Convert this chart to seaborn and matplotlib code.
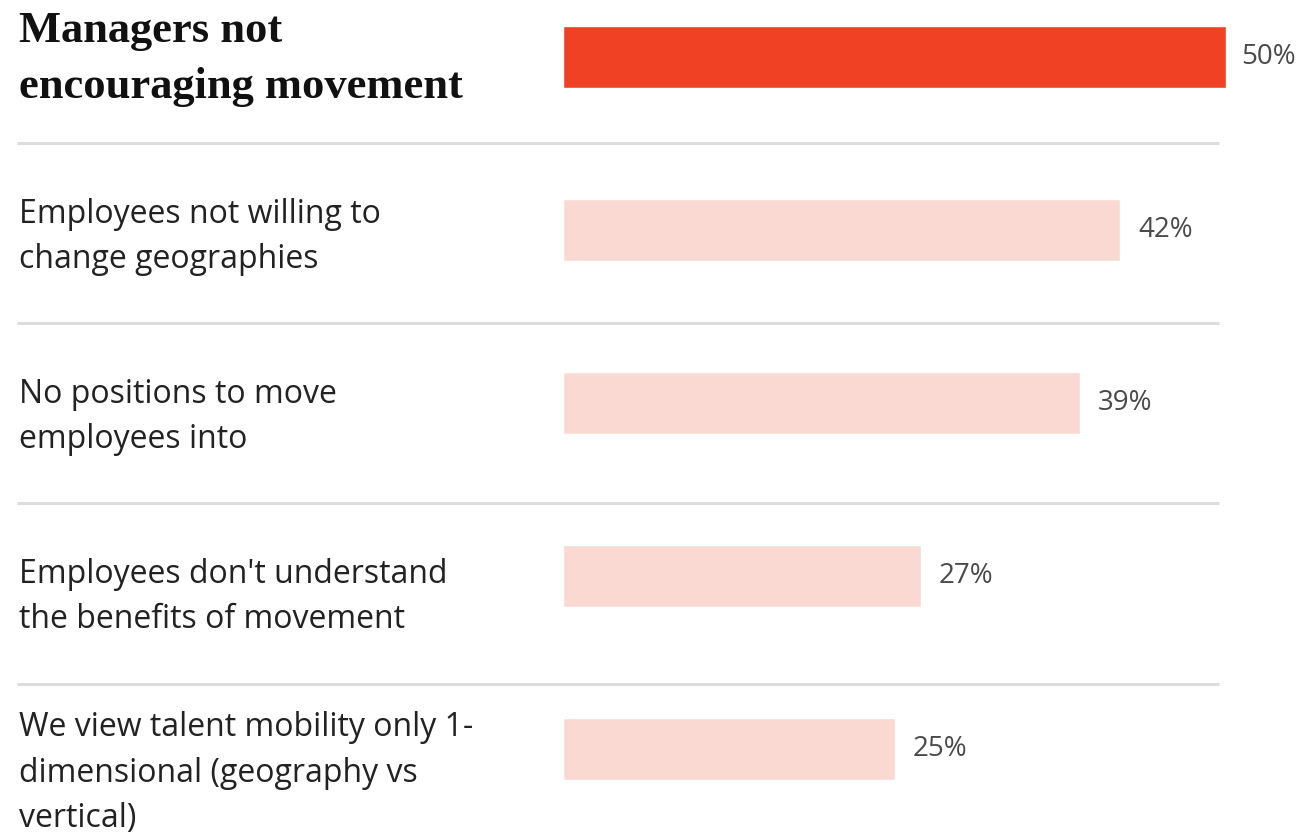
import matplotlib
matplotlib.use("Agg")
import matplotlib.pyplot as plt
import seaborn as sns
import pandas as pd

# Survey results: barriers to internal talent mobility
categories = [
    "Managers not\nencouraging movement",
    "Employees not willing to\nchange geographies",
    "No positions to move\nemployees into",
    "Employees don't understand\nthe benefits of movement",
    "We view talent mobility only 1-\ndimensional (geography vs\nvertical)",
]
values = [50, 42, 39, 27, 25]
value_labels = ["50%", "42%", "39%", "27%", "25%"]

HIGHLIGHT = "#F04124"
MUTED = "#FBD9D3"
colors = [HIGHLIGHT] + [MUTED] * (len(values) - 1)

df = pd.DataFrame({"category": categories, "value": values})

sns.set_theme(style="white")
plt.rcParams["font.family"] = ["Open Sans", "DejaVu Sans"]

W, H = 1301, 836
fig = plt.figure(figsize=(W / 100, H / 100), dpi=100)
ax = fig.add_axes([0, 0, 1, 1])

sns.barplot(data=df, y="category", x="value", hue="category",
            palette=colors, orient="h", width=0.358, legend=False,
            saturation=1, ax=ax)

# map the axes so that bars start at the left third of the canvas
px_per_unit = 13.26
x0 = -563 / px_per_unit
ax.set_xlim(x0, x0 + W / px_per_unit)
row_px = 173
ax.set_ylim((H - 57) / row_px, -57 / row_px)
ax.axis("off")

# value labels at the end of each bar
for i, (v, lab) in enumerate(zip(values, value_labels)):
    ax.annotate(lab, xy=(v, i), xytext=(11 if i == 0 else 13, 0),
                textcoords="offset points", va="center", ha="left",
                fontsize=20, color="#4a4a4a")

# category labels on the left
label_centers = [59, 237, 417, 597, 773]
for i, (cat, yc) in enumerate(zip(categories, label_centers)):
    if i == 0:
        ax.text(19 / W, 1 - yc / H, cat, transform=ax.transAxes,
                ha="left", va="center", fontsize=32, fontweight="bold",
                family=["Liberation Serif", "DejaVu Serif"], color="#111111",
                linespacing=1.5)
    else:
        ax.text(19 / W, 1 - yc / H, cat, transform=ax.transAxes,
                ha="left", va="center", fontsize=23, color="#222222",
                linespacing=1.49)

# separators between rows
for yp in [143, 323, 503, 684]:
    ax.plot([17 / W, 1219 / W], [1 - yp / H, 1 - yp / H],
            transform=ax.transAxes, color="#DCDCDC", lw=2.2,
            solid_capstyle="butt")

fig.savefig("out.png", dpi=100)
